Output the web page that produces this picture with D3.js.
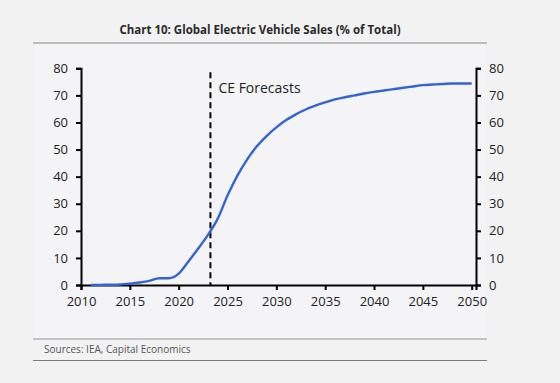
<!DOCTYPE html>
<html><head><meta charset="utf-8">
<script src="https://cdn.jsdelivr.net/npm/d3@7"></script>
<style>
html,body{margin:0;padding:0;background:#f2f2f3;}
svg{display:block;}
</style></head>
<body>
<svg id="c" width="560" height="383"></svg>
<script>
const years = [2011,2012,2013,2014,2015,2016,2017,2018,2019,2020,2021,2022,2023,2024,2025,2026,2027,2028,2029,2030,2031,2032,2033,2034,2035,2036,2037,2038,2039,2040,2041,2042,2043,2044,2045,2046,2047,2048,2049,2050];
const evShare = [0,0.05,0.1,0.2,0.5,0.9,1.5,2.5,2.5,4.2,8.7,13.5,18.5,24.5,33,40.3,46.3,51.2,55,58.2,60.9,63,64.8,66.2,67.4,68.5,69.3,70,70.7,71.3,71.8,72.3,72.8,73.3,73.8,74.0,74.2,74.4,74.4,74.4];
const xTicks = [2010,2015,2020,2025,2030,2035,2040,2045,2050];
const yTicks = [0,10,20,30,40,50,60,70,80];
const forecastStart = 2023.25;
const titleText = "Chart 10: Global Electric Vehicle Sales (% of Total)";
const sourceText = "Sources: IEA, Capital Economics";
const annotation = "CE Forecasts";

const svg = d3.select("#c");
const font = "'Open Sans', sans-serif";

// panel
svg.append("rect").attr("x",33).attr("y",43).attr("width",454).attr("height",296).attr("fill","#f4f4f6");
svg.append("text").attr("x",260).attr("y",34).attr("text-anchor","middle")
  .attr("font-family",font).attr("font-weight","bold").attr("font-size",11.5).attr("fill","#2a2a2a").text(titleText);
svg.append("line").attr("x1",33).attr("x2",487).attr("y1",43).attr("y2",43).attr("stroke","#aaaaae").attr("stroke-width",1.5);
svg.append("line").attr("x1",33).attr("x2",487).attr("y1",339).attr("y2",339).attr("stroke","#b4b4b8").attr("stroke-width",1.5);
svg.append("text").attr("x",44).attr("y",353).attr("font-family",font).attr("font-size",10).attr("fill","#555").text(sourceText);
svg.append("line").attr("x1",33).attr("x2",487).attr("y1",360.5).attr("y2",360.5).attr("stroke","#7a7a7a").attr("stroke-width",1);

const x = d3.scaleLinear().domain([2010,2050.44]).range([81,476]);
const y = d3.scaleLinear().domain([0,80]).range([285,68.3]);

const axStyle = g => {
  g.selectAll("path.domain").attr("stroke","#000").attr("stroke-width",2);
  g.selectAll(".tick line").attr("stroke","#000").attr("stroke-width",2);
  g.selectAll(".tick text").attr("font-family",font).attr("font-size",13).attr("fill","#222");
};

svg.append("g").attr("transform","translate(81,0)")
  .call(d3.axisLeft(y).tickValues(yTicks).tickSizeOuter(0).tickSize(5).tickPadding(8))
  .call(axStyle);
svg.append("g").attr("transform","translate(476,0)")
  .call(d3.axisRight(y).tickValues(yTicks).tickSizeOuter(0).tickSize(5).tickPadding(8))
  .call(axStyle)
  .call(g=>g.selectAll(".tick text").attr("text-anchor","start"));
svg.append("g").attr("transform","translate(0,285)")
  .call(d3.axisBottom(x).tickValues(xTicks).tickFormat(d3.format("d")).tickSizeOuter(0).tickSize(5).tickPadding(7))
  .call(axStyle);

// forecast divider
svg.append("line").attr("x1",x(forecastStart)).attr("x2",x(forecastStart)).attr("y1",y(78.5)).attr("y2",y(0))
  .attr("stroke","#000").attr("stroke-width",2).attr("stroke-dasharray","6,4");
svg.append("text").attr("x",x(forecastStart)+8).attr("y",93).attr("font-family",font).attr("font-size",14).attr("fill","#222").text(annotation);

const line = d3.line().x((d,i)=>x(years[i])).y(d=>y(d)).curve(d3.curveMonotoneX);
svg.append("path").datum(evShare).attr("d",line).attr("fill","none").attr("stroke","#3464cf").attr("stroke-width",2.4).attr("stroke-linejoin","round");
</script>
</body></html>
